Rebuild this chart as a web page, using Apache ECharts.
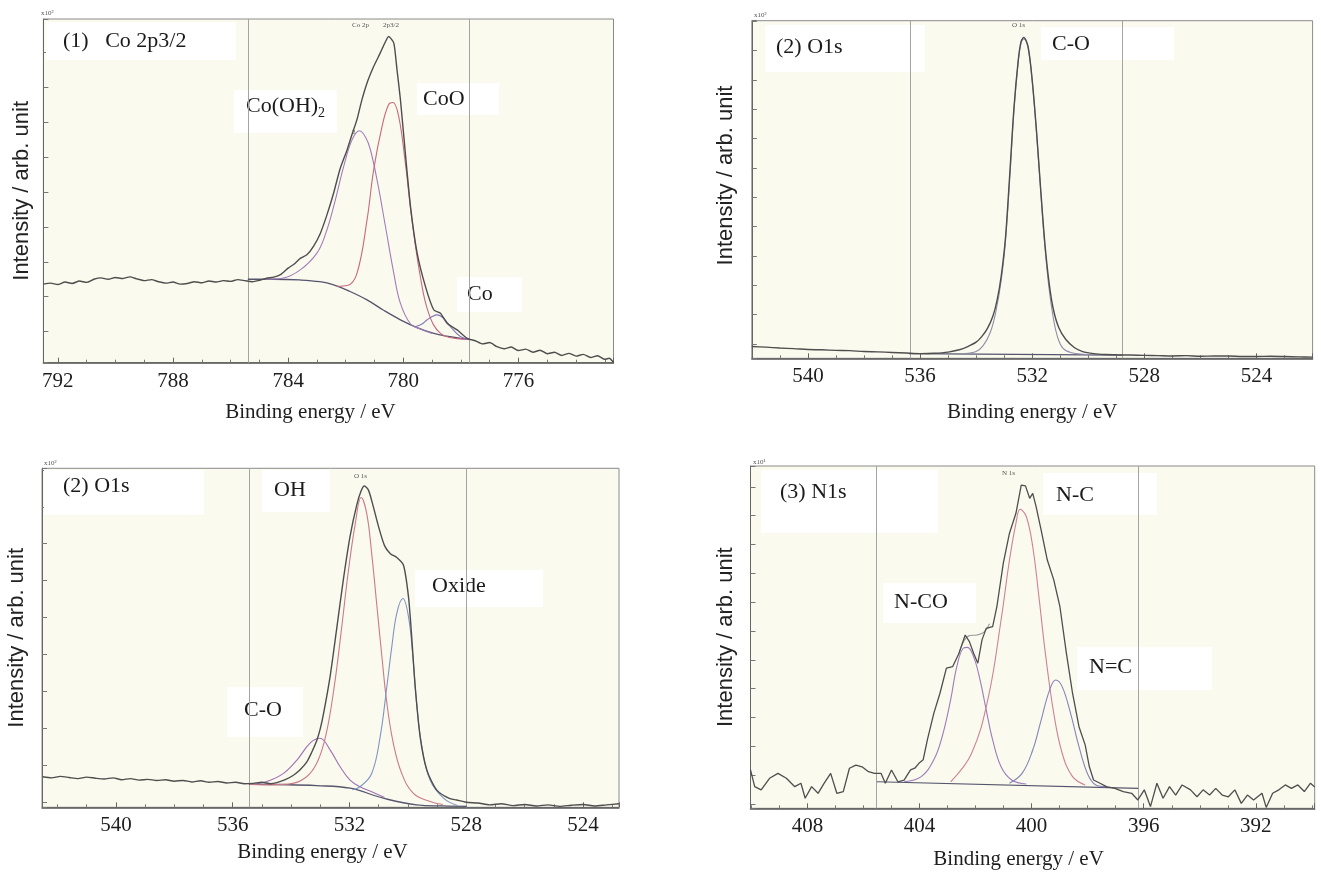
<!DOCTYPE html>
<html><head><meta charset="utf-8">
<script src="https://cdn.jsdelivr.net/npm/echarts@6/dist/echarts.min.js"></script>
<style>html,body{margin:0;padding:0;background:#fff}#c{width:1321px;height:874px}</style>
</head><body><div id="c"></div><script>
// ---------- DATA (binding energy eV, intensity arb.) ----------
// Panel 1: Co 2p3/2
const p1Raw = [[792.5,13.6],[792.25,13.9],[792.0,13.5],[791.75,14.2],[791.5,13.8],[791.25,14.5],[791.0,14.1],[790.75,15.0],[790.5,15.4],[790.25,15.0],[790.0,15.5],[789.75,15.2],[789.5,15.7],[789.25,15.1],[789.0,14.6],[788.75,14.9],[788.5,14.3],[788.25,13.9],[788.0,14.2],[787.75,13.6],[787.5,13.8],[787.25,14.3],[787.0,14.0],[786.75,14.5],[786.5,14.2],[786.25,14.6],[786.0,14.4],[785.75,14.9],[785.5,14.6],[785.25,14.3],[785.0,14.7],[784.75,15.3],[784.5,15.6],[784.25,16.4],[784.0,18.2],[783.8,19.3],[783.58,21.0],[783.35,22.0],[783.12,24.4],[782.88,28.2],[782.65,33.5],[782.42,39.7],[782.2,46.5],[781.95,52.1],[781.78,56.5],[781.61,60.7],[781.45,66.0],[781.26,71.2],[781.03,75.9],[780.8,79.8],[780.65,82.5],[780.51,84.5],[780.33,82.6],[780.22,75.0],[780.1,66.4],[779.93,51.1],[779.75,35.8],[779.52,22.5],[779.23,12.9],[778.94,6.2],[778.71,5.3],[778.48,2.4],[778.13,0.5],[777.78,-1.9],[777.5,-2.6],[777.25,-3.5],[777.0,-3.1],[776.75,-4.3],[776.5,-4.9],[776.25,-4.4],[776.0,-5.4],[775.75,-5.0],[775.5,-5.9],[775.25,-5.3],[775.0,-6.3],[774.75,-5.9],[774.5,-6.8],[774.25,-6.2],[774.0,-7.0],[773.75,-6.5],[773.5,-7.4],[773.25,-6.9],[773.0,-7.9],[772.85,-7.6],[772.7,-8.8]];
const p1Bg = [[785.4,15.0],[784.5,15.0],[783.6,14.8],[782.9,14.3],[782.42,13.4],[781.85,11.5],[781.26,9.1],[780.7,6.2],[780.1,3.4],[779.5,1.1],[778.94,-0.5],[778.5,-1.3],[778.02,-1.9],[777.7,-2.2]];
const p1CoOH2 = [[784.8,15.0],[784.2,15.3],[783.58,17.7],[783.0,22.5],[782.7,28.0],[782.42,35.8],[782.07,47.3],[781.78,54.9],[781.52,57.5],[781.3,55.5],[781.14,52.0],[780.89,42.5],[780.62,30.1],[780.33,16.7],[780.1,8.1],[779.75,2.2],[779.41,0.8],[779.0,-0.5]];
const p1CoO = [[782.3,13.0],[781.95,13.2],[781.61,16.7],[781.26,32.0],[781.03,46.3],[780.74,58.7],[780.51,65.0],[780.36,65.6],[780.16,61.6],[779.93,48.3],[779.7,32.0],[779.41,15.8],[779.12,5.3],[778.71,-0.5],[778.13,-2.0],[777.7,-2.2]];
const p1Co = [[779.6,1.4],[779.35,2.2],[779.17,3.4],[778.98,4.4],[778.83,4.8],[778.6,3.8],[778.36,1.4],[778.02,-1.4],[777.67,-2.3]];
const p1Ref = [785.4, 777.7];

// Panel 2: O1s (C-O)
const p2Raw = [[542.0,-0.9],[541.5,-1.1],[541.0,-1.4],[540.5,-1.6],[540.0,-1.9],[539.5,-2.0],[539.0,-2.2],[538.5,-2.3],[538.0,-2.6],[537.5,-2.7],[537.0,-2.9],[536.5,-3.1],[536.0,-3.3],[535.5,-3.2],[535.0,-2.8],[534.6,-2.0],[534.3,-0.9],[534.0,0.6],[533.8,2.5],[533.6,5.2],[533.4,9.5],[533.25,15.0],[533.1,23.5],[532.95,36.5],[532.8,58.0],[532.65,80.5],[532.5,96.5],[532.4,103.0],[532.3,104.5],[532.15,101.5],[532.0,90.0],[531.85,73.0],[531.7,53.0],[531.55,34.5],[531.4,21.0],[531.25,12.0],[531.05,5.5],[530.8,1.5],[530.5,-1.2],[530.2,-2.6],[529.8,-3.3],[529.4,-3.6],[529.0,-3.7],[528.5,-3.8],[528.0,-3.9],[527.5,-4.0],[527.0,-4.1],[526.5,-4.0],[526.0,-4.2],[525.5,-4.1],[525.0,-4.1],[524.5,-4.3],[524.0,-4.3],[523.5,-4.2],[523.0,-4.3],[522.5,-4.4],[522.0,-4.5]];
const p2Bg = [[536.4,-3.3],[528.8,-3.8]];
const p2Fit = [[534.4,-3.3],[534.0,-2.6],[533.75,-0.6],[533.5,3.8],[533.3,10.8],[533.1,22.0],[532.95,35.5],[532.8,56.5],[532.65,79.5],[532.5,96.0],[532.4,102.5],[532.3,104.0],[532.15,101.0],[532.0,89.5],[531.85,72.5],[531.7,52.5],[531.55,33.5],[531.4,19.0],[531.25,9.0],[531.1,2.5],[530.9,-1.5],[530.6,-3.0],[530.2,-3.5],[529.5,-3.7]];
const p2Ref = [536.36, 528.79];

// Panel 3: O1s (OH / Oxide / C-O)
const p3Raw = [[542.5,7.0],[542.2,6.7],[541.9,7.1],[541.6,6.8],[541.3,6.5],[541.0,6.9],[540.7,6.6],[540.4,6.4],[540.1,6.7],[539.8,6.2],[539.5,6.5],[539.2,6.1],[538.9,6.3],[538.6,6.0],[538.3,6.2],[538.0,5.8],[537.7,6.0],[537.4,5.6],[537.1,5.9],[536.8,5.5],[536.5,5.7],[536.2,5.3],[535.9,5.5],[535.6,5.1],[535.3,5.2],[535.0,5.5],[534.7,5.1],[534.49,5.4],[534.2,6.2],[533.92,7.4],[533.7,8.8],[533.46,11.0],[533.3,13.5],[533.12,16.8],[533.0,20.0],[532.89,24.0],[532.66,34.3],[532.44,46.9],[532.21,60.3],[531.98,72.0],[531.75,80.5],[531.6,84.3],[531.49,85.6],[531.35,84.5],[531.2,80.5],[531.0,74.5],[530.8,69.5],[530.6,67.3],[530.38,66.3],[530.15,64.2],[529.98,55.7],[529.87,44.9],[529.75,31.4],[529.58,17.8],[529.35,8.8],[529.01,3.4],[528.6,1.2],[528.33,0.7],[528.0,0.1],[527.6,-0.1],[527.2,-0.6],[526.8,-0.3],[526.4,-0.8],[526.0,-0.5],[525.6,-0.9],[525.2,-0.6],[524.8,-1.0],[524.4,-0.7],[524.0,-0.5],[523.6,-0.9],[523.2,-0.6],[522.77,-0.3]];
const p3Bg = [[535.45,5.0],[534.5,4.9],[533.12,4.6],[531.98,3.9],[530.84,1.2],[529.7,-0.6],[528.8,-0.9],[527.98,-1.0]];
const p3OH = [[535.4,4.9],[534.95,4.8],[534.1,5.0],[533.5,6.8],[533.1,11.0],[532.8,18.5],[532.52,31.5],[532.28,46.5],[532.04,62.5],[531.8,75.5],[531.6,82.5],[531.41,78.2],[531.24,67.4],[531.07,53.9],[530.89,39.5],[530.72,26.9],[530.5,16.1],[530.21,7.9],[529.81,2.5],[529.24,0.3],[528.8,-0.5]];
const p3Oxide = [[531.9,3.5],[531.64,4.3],[531.24,7.9],[530.95,17.8],[530.72,31.4],[530.55,42.2],[530.38,51.2],[530.17,55.2],[529.98,50.3],[529.83,39.5],[529.7,26.9],[529.52,15.1],[529.24,6.1],[528.78,1.2],[528.3,-0.8]];
const p3CO = [[535.4,4.9],[534.83,5.7],[534.26,7.9],[533.8,11.5],[533.35,16.1],[533.01,17.4],[532.66,14.2],[532.32,9.7],[531.98,6.1],[531.64,4.3],[531.2,2.8],[530.8,1.4]];
const p3Ref = [535.43, 527.99];

// Panel 4: N1s
const p4Raw = [[410.03,11.8],[409.88,6.0],[409.65,4.9],[409.35,8.9],[409.05,10.6],[408.75,8.9],[408.45,6.0],[408.23,7.2],[408.08,2.0],[407.85,6.0],[407.62,3.7],[407.40,7.2],[407.17,10.6],[406.95,3.7],[406.72,4.3],[406.50,12.4],[406.27,13.5],[406.05,12.9],[405.82,11.2],[405.60,10.6],[405.37,10.6],[405.22,7.2],[405.00,11.8],[404.77,7.7],[404.55,8.3],[404.32,11.8],[404.17,12.4],[404.02,14.1],[403.87,15.3],[403.72,22.2],[403.49,31.4],[403.27,38.4],[403.04,47.1],[402.82,47.6],[402.59,52.3],[402.37,58.6],[402.22,56.3],[402.07,52.3],[401.92,48.8],[401.77,56.9],[401.62,60.9],[401.39,61.5],[401.24,68.4],[401.01,83.5],[400.79,93.9],[400.56,100.8],[400.37,110.6],[400.22,110.3],[400.07,106.0],[399.96,107.7],[399.84,103.1],[399.66,95.0],[399.44,84.6],[399.21,77.7],[398.99,68.4],[398.76,52.3],[398.54,38.4],[398.31,26.8],[398.09,20.5],[397.94,12.9],[397.79,8.3],[397.56,7.2],[397.33,6.0],[397.03,5.4],[396.73,4.3],[396.43,3.7],[396.21,1.4],[395.98,4.9],[395.76,-0.9],[395.53,7.2],[395.31,2.0],[395.08,6.0],[394.86,3.1],[394.63,6.6],[394.33,4.9],[394.10,2.5],[393.88,4.9],[393.65,3.1],[393.43,5.4],[393.20,3.1],[392.98,2.5],[392.75,4.9],[392.52,0.2],[392.30,3.1],[392.08,1.4],[391.78,3.7],[391.63,-1.2],[391.40,3.7],[391.18,4.9],[390.95,6.6],[390.73,5.4],[390.50,6.6],[390.27,4.3],[390.05,7.2],[389.9,5.9]];
const p4Bg = [[405.52,7.7],[396.2,5.4]];
const p4NCO = [[404.55,7.7],[403.94,9.5],[403.49,15.3],[403.19,23.4],[402.89,36.1],[402.67,47.6],[402.44,54.0],[402.29,54.3],[402.07,51.1],[401.84,43.0],[401.62,32.6],[401.39,22.2],[401.09,12.9],[400.71,8.3],[400.19,6.9]];
const p4NC = [[402.89,7.7],[402.14,17.6],[401.54,37.2],[401.09,63.8],[400.79,84.6],[400.56,97.3],[400.41,102.2],[400.19,99.7],[399.96,89.2],[399.74,71.9],[399.51,52.3],[399.21,31.4],[398.91,17.6],[398.54,9.5],[398.09,6.6]];
const p4NeqC = [[400.79,7.2],[400.34,10.6],[399.96,18.7],[399.66,29.1],[399.36,39.5],[399.14,43.0],[398.91,40.7],[398.61,31.4],[398.31,19.9],[398.01,10.6],[397.71,6.6],[397.33,6.0]];
const p4FitPart = [[402.6,52.0],[402.4,56.8],[402.2,58.4],[401.95,58.6],[401.7,59.6],[401.5,62.5]];
const p4Ref = [405.55, 396.2];

// ---------- LAYOUT ----------
const SERIF = '"Liberation Serif", "Times New Roman", serif';
const SANS = '"Liberation Sans", Arial, sans-serif';
const grids = [
  {left:43.4, top:19, width:570.1, height:343.7},
  {left:751.8, top:20.7, width:560.8, height:337.6},
  {left:42, top:468.3, width:577, height:339},
  {left:750.5, top:466, width:564.2, height:342.3}
];
const xRange = [[772.7,792.5],[522,542],[522.77,542.53],[389.9,410.03]];
const yRange = [[-8.88,89.5],[-4.9,110.2],[-1.26,90.4],[-1.5,117.2]];
const xNameGap = [39, 44, 35, 41];
const xNamePad = [[0,36,0,0],[0,0,0,0],[0,16,0,0],[0,28,0,0]];
const yNameGap = [10, 15, 14, 14];
const yNamePad = [[0,0,0,0],[0,0,0,28],[0,0,0,0],[0,0,0,0]];

const chart = echarts.init(document.getElementById('c'), null, {renderer:'canvas'});

const gridOpts = grids.map(g => Object.assign({show:true, backgroundColor:'#fafaee', borderColor:'#8a8a8a', borderWidth:1, containLabel:false}, g));
const xAxes = grids.map((g,i) => ({
  type:'value', gridIndex:i, min:xRange[i][0], max:xRange[i][1], inverse:true,
  minInterval:4, maxInterval:4, splitNumber:5,
  axisLine:{show:true, onZero:false, lineStyle:{color:'#555', width:1.5}},
  axisTick:{show:true, inside:true, length:5, lineStyle:{color:'#666'}},
  minorTick:{show:true, splitNumber:4, length:3, lineStyle:{color:'#777'}},
  splitLine:{show:false}, minorSplitLine:{show:false},
  axisLabel:{fontFamily:SERIF, fontSize:21, color:'#1e1e1e', margin:8, showMinLabel:false, showMaxLabel:false},
  name:'Binding energy / eV', nameLocation:'middle', nameGap:xNameGap[i],
  nameTextStyle:{fontFamily:SERIF, fontSize:21, color:'#1e1e1e', padding:xNamePad[i]}
}));
const yAxes = grids.map((g,i) => ({
  type:'value', gridIndex:i, min:yRange[i][0], max:yRange[i][1],
  minInterval:10, maxInterval:10, splitNumber:10,
  axisLine:{show:true, onZero:false, lineStyle:{color:'#666', width:1}},
  axisTick:{show:true, inside:true, length:5, lineStyle:{color:'#777'}},
  axisLabel:{show:false}, splitLine:{show:false},
  name:'Intensity / arb. unit', nameLocation:'middle', nameGap:yNameGap[i], nameRotate:90,
  nameTextStyle:{fontFamily:SANS, fontSize:22, color:'#222', padding:yNamePad[i]}
}));

function ln(i, data, color, w, smooth) {
  return {type:'line', xAxisIndex:i, yAxisIndex:i, data:data, symbol:'none', showSymbol:false,
    smooth:smooth, lineStyle:{color:color, width:w}, z:5, silent:true, animation:false};
}
function refs(i, vals) {
  return {type:'line', xAxisIndex:i, yAxisIndex:i, data:[], z:1, silent:true, animation:false,
    markLine:{silent:true, symbol:['none','none'], label:{show:false}, animation:false,
      lineStyle:{color:'#a4a4a4', width:1, type:'solid'}, emphasis:{disabled:true},
      data: vals.map(v => ({xAxis:v}))}};
}
const RAW = '#4e4e4e', BG = '#55556e';
const series = [
  refs(0,p1Ref), refs(1,p2Ref), refs(2,p3Ref), refs(3,p4Ref),
  ln(0,p1Bg,BG,1.3,0.4), ln(0,p1CoOH2,'#a27cba',1.1,0.4), ln(0,p1CoO,'#c9687f',1.1,0.4), ln(0,p1Co,'#8474b4',1.1,0.4), ln(0,p1Raw,RAW,1.4,0.2),
  ln(1,p2Bg,BG,1.2,0), ln(1,p2Fit,'#8e8eaa',1.1,0.4), ln(1,p2Raw,RAW,1.4,0.3),
  ln(2,p3Bg,BG,1.3,0.4), ln(2,p3CO,'#a070b4',1.1,0.4), ln(2,p3OH,'#cc7a8a',1.1,0.4), ln(2,p3Oxide,'#7f94c4',1.1,0.4), ln(2,p3Raw,RAW,1.4,0.25),
  ln(3,p4Bg,BG,1.2,0), ln(3,p4NCO,'#9c7cba',1.1,0.4), ln(3,p4NC,'#cf8196',1.1,0.4), ln(3,p4NeqC,'#8484ba',1.1,0.4), ln(3,p4FitPart,'#9a9a9a',1.1,0.4), ln(3,p4Raw,RAW,1.3,0)
];

function box(x,y,w,h){return {type:'rect', shape:{x:x,y:y,width:w,height:h}, style:{fill:'#ffffff'}, z:3, silent:true};}
function txt(x,y,s,size,fam,color){return {type:'text', x:x, y:y, z:4, silent:true,
  style:{text:s, font:size+'px '+(fam||SERIF), fill:color||'#1a1a1a', textAlign:'left', textVerticalAlign:'middle', align:'left', verticalAlign:'middle'}};}

const graphics = [
  // panel 1
  box(46,22,190,38), txt(63,41,'(1)   Co 2p3/2',22),
  box(234,90,103,43), txt(246,106,'Co(OH)',22), txt(318,113,'2',14),
  box(417,83,82,32), txt(423,99,'CoO',22),
  box(457,277,65,35), txt(467,294,'Co',22),
  txt(352,25,'Co 2p',7,SERIF,'#555'), txt(383,25,'2p3/2',7,SERIF,'#555'), txt(352,132,'2',7,SERIF,'#555'),
  txt(41,13,'x10\u00b2',7,SERIF,'#555'),
  // panel 2
  box(765,25,160,47), txt(776,47,'(2) O1s',22),
  box(1041,27,133,33), txt(1052,44,'C-O',22),
  txt(1012,25,'O 1s',7,SERIF,'#555'), txt(754,15,'x10\u00b2',7,SERIF,'#555'),
  // panel 3
  box(44,470,160,45), txt(63,486,'(2) O1s',22),
  box(262,470,68,42), txt(274,490,'OH',22),
  box(415,570,128,37), txt(432,586,'Oxide',22),
  box(227,687,76,50), txt(244,710,'C-O',22),
  txt(354,476,'O 1s',7,SERIF,'#555'), txt(44,463,'x10\u00b2',7,SERIF,'#555'),
  // panel 4
  box(761,470,177,63), txt(780,492,'(3) N1s',22),
  box(1043,473,114,42), txt(1056,495,'N-C',22),
  box(883,583,93,40), txt(894,602,'N-CO',22),
  box(1077,647,135,43), txt(1089,667,'N=C',22),
  txt(1002,473,'N 1s',7,SERIF,'#555'), txt(753,462,'x10\u00b9',7,SERIF,'#555')
];

chart.setOption({
  animation:false,
  backgroundColor:'#ffffff',
  grid: gridOpts,
  xAxis: xAxes,
  yAxis: yAxes,
  series: series,
  graphic: {elements: graphics}
});
</script></body></html>
